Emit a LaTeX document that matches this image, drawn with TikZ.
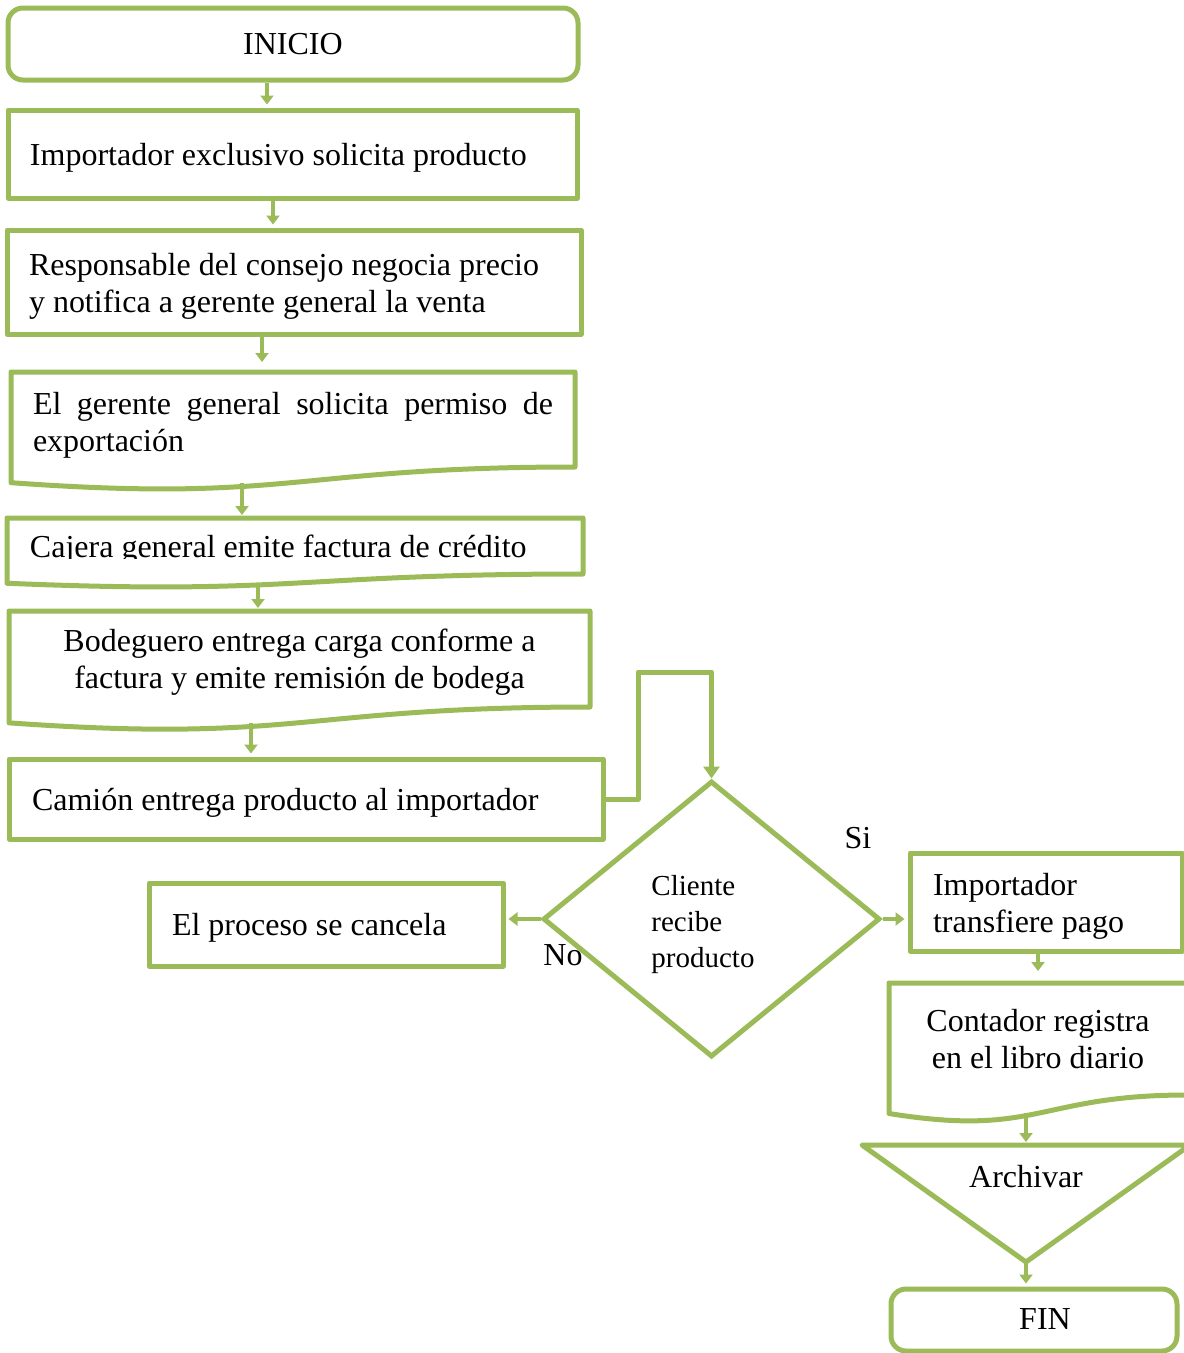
\documentclass[tikz,border=0pt]{standalone}
\usepackage{fontspec}
\setmainfont{Liberation Serif}
\usetikzlibrary{shapes.geometric, arrows.meta, positioning, calc}
\definecolor{flowgreen}{HTML}{9BBB59}

% bottom wave of a document shape
\newcommand{\docwave}[1]{%
  \draw[flow] let \p1=(#1.north west), \p2=(#1.south east), \n1={\y1-\y2} in
    (\p2) -- (\x2,\y1) -- (\p1) -- (\x1,\y2-0.165*\n1)
    .. controls ({0.5*\x1+0.5*\x2},\y2-0.38*\n1) and ({0.5*\x1+0.5*\x2},\y2) .. (\p2) -- cycle;}

\begin{document}
\begin{tikzpicture}[x=1pt, y=-1pt,
    every node/.style={font=\fontsize{32}{37}\selectfont},
    box/.style={rectangle, draw=flowgreen, line width=5pt, line join=round, inner xsep=22pt, inner ysep=0pt, text depth=-3pt, align=flush left},
    doc/.style={rectangle, outer sep=0pt, inner xsep=22pt, inner ysep=0pt},
    term/.style={rectangle, rounded corners=15pt, draw=flowgreen, line width=5pt},
    flow/.style={draw=flowgreen, line width=5pt, line join=round},
    arr/.style={draw=flowgreen, line width=4pt, -{Triangle[width=13pt,length=9pt]}, shorten >=3pt}
  ]
  \useasboundingbox (0,0) rectangle (1184,1353);

  \node (inicio) [term, minimum width=570pt, minimum height=72pt] at (293,44) {INICIO};
  \node (solicita) [box, minimum width=569pt, minimum height=88pt, text width=525pt] at (292.5,154) {Importador exclusivo solicita producto};
  \node (negocia) [box, minimum width=574pt, minimum height=104pt, text width=530pt, text depth=35pt] at (294,282) {Responsable del consejo negocia precio\\y notifica a gerente general la venta};
  \node (permiso) [doc, minimum width=564pt, minimum height=95pt, text width=520pt, text depth=32pt, align=justify] at (293,419.5) {El gerente general solicita permiso de\linebreak exportación};
  \docwave{permiso}
  \begin{scope}
    \clip (0,500) rectangle (600,558);
    \node (factura) [doc, minimum width=576pt, minimum height=56pt, inner xsep=23pt, text width=530pt, text depth=-3pt, align=flush left] at (295,546) {Cajera general emite factura de crédito};
  \end{scope}
  \docwave{factura}
  \node (bodega) [doc, minimum width=581pt, minimum height=96pt, text depth=-12pt, align=flush center] at (299.5,659) {Bodeguero entrega carga conforme a\\factura y emite remisión de bodega};
  \docwave{bodega}
  \node (camion) [box, minimum width=594pt, minimum height=80pt, inner xsep=23pt, text width=548pt, text depth=-9pt] at (306,799) {Camión entrega producto al importador};

  \node (recibe) [diamond, draw=flowgreen, line width=5pt, minimum width=337pt, minimum height=276pt, inner sep=0pt] at (711.5,919) {};
  \node (recibetxt) [align=flush left, font=\fontsize{29}{36}\selectfont] at (703,925) {Cliente\\recibe\\producto};
  \node (cancela) [box, minimum width=354pt, minimum height=83pt, inner xsep=23pt, text width=308pt, text depth=-9pt] at (326,924.5) {El proceso se cancela};
  \node (pago) [box, minimum width=272pt, minimum height=98pt, inner xsep=23pt, text width=226pt, text depth=35pt] at (1046,902) {Importador\\transfiere pago};
  \node (registra) [doc, minimum width=298pt, minimum height=112pt, align=flush center] at (1038,1039) {Contador registra\\en el libro diario};
  \docwave{registra}

  \coordinate (archL) at (862,1145);
  \coordinate (archR) at (1190,1145);
  \coordinate (archB) at (1026,1262);
  \draw[flow] (archL) -- (archR) -- (archB) -- cycle;
  \node (archivar) at (1026,1177) {Archivar};
  \node (fin) [term, minimum width=286pt, minimum height=62pt, text depth=2pt] at (1034,1320) {\hspace*{22pt}FIN};

  \node (si) at (858,838) {Si};
  \node (no) at (563,955) {No};

  \draw[arr] ([xshift=-26pt]inicio.south) -- ([xshift=-25.5pt]solicita.north);
  \draw[arr] ([xshift=-19.5pt]solicita.south) -- ([xshift=-21pt]negocia.north);
  \draw[arr, shorten >=10pt] ([xshift=-32pt]negocia.south) -- ([xshift=-31pt]permiso.north);
  \draw[arr] ([xshift=-51pt,yshift=-16pt]permiso.south) -- ([xshift=-53pt]factura.north);
  \draw[arr] ([xshift=-37pt,yshift=-10pt]factura.south) -- ([xshift=-41.5pt]bodega.north);
  \draw[arr] ([xshift=-48.5pt,yshift=-16pt]bodega.south) -- ([xshift=-55pt]camion.north);

  \coordinate (vuelta) at (638,672);
  \draw[flow, -{Triangle[width=16pt,length=12pt]}] (camion.east) -| (vuelta) -| (recibe.north);
  \draw[arr] (recibe.west) -- (recibe.west -| cancela.east);
  \draw[arr] (recibe.east) -- (recibe.east -| pago.west);
  \draw[arr, shorten >=12pt] (pago.south -| registra.north) -- (registra.north);
  \draw[arr] ([xshift=-12pt,yshift=-18pt]registra.south) -- (archB |- archL);
  \draw[arr] (archB) -- (archB |- fin.north);
\end{tikzpicture}
\end{document}
